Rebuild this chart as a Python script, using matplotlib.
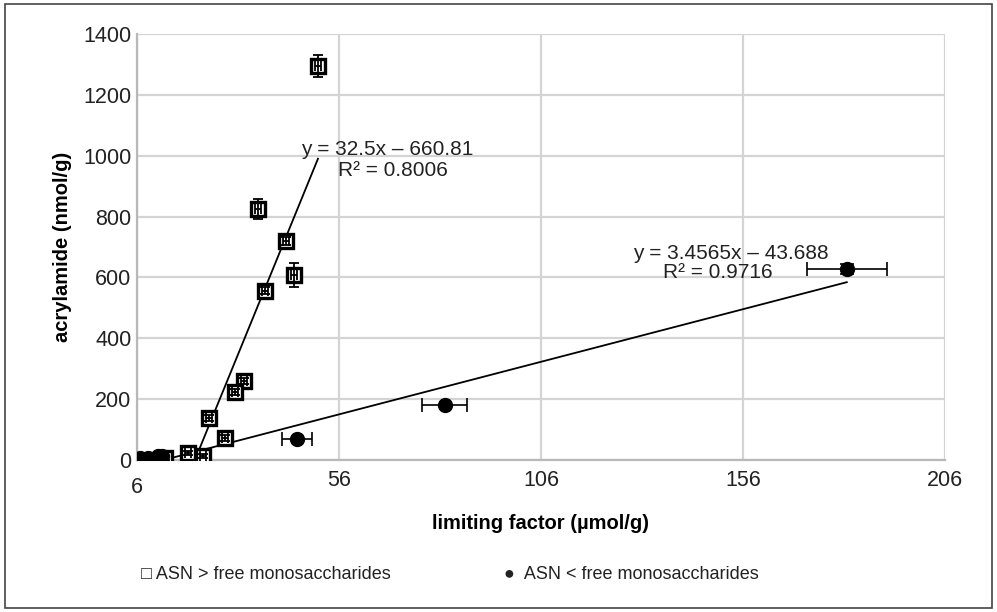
import numpy as np
import matplotlib.pyplot as plt
from matplotlib.patches import Rectangle
from matplotlib.transforms import ScaledTranslation

plt.rcParams['font.family'] = ['Liberation Sans', 'DejaVu Sans']

# ASN > free monosaccharides (squares)
sq_x = [50.8, 36.0, 42.9, 44.9, 37.7, 32.5, 30.3, 23.8, 27.8, 22.3, 18.6, 12.9]
sq_y = [1295, 825, 720, 607, 557, 260, 222, 137, 72, 13, 23, 6]
sq_xerr = [0.7, 0.7, 0.7, 0.7, 0.7, 0.7, 0.7, 0.7, 0.7, 0.7, 0.7, 0.7]
sq_yerr = [35, 33, 14, 40, 12, 10, 10, 10, 10, 8, 8, 6]

# ASN < free monosaccharides (circles)
ci_x = [181.7, 82.2, 45.6, 6.8, 8.7, 11.2, 12.2]
ci_y = [627, 181, 70, 6, 7, 14, 12]
ci_xerr = [9.9, 5.6, 3.7, 0, 0, 0, 0]
ci_yerr = [16, 0, 0, 0, 0, 0, 0]

# trendline coefficients (slope, intercept) from the chart labels
sq_fit = (32.5, -660.81)
ci_fit = (3.4565, -43.688)

x_ticks = [6, 56, 106, 156, 206]
y_ticks = [0, 200, 400, 600, 800, 1000, 1200, 1400]

fig = plt.figure(figsize=(9.97, 6.12), dpi=100)
ax = fig.add_axes([0.1374, 0.2484, 0.8104, 0.696])

# gridlines
ax.set_axisbelow(True)
ax.grid(True, color='#d4d4d4', lw=1.6)
for s in ['top', 'right']:
    ax.spines[s].set_visible(False)
for s in ['left', 'bottom']:
    ax.spines[s].set_color('#b8b8b8')
    ax.spines[s].set_linewidth(1.6)


def trend(xs, fit):
    a, b = fit
    x0 = max(min(xs), -b / a)
    x1 = max(xs)
    xx = np.array([x0, x1])
    ax.plot(xx, a * xx + b, color='black', lw=1.3, zorder=2)


trend(sq_x, sq_fit)
trend(ci_x, ci_fit)

# squares
ax.plot(sq_x, sq_y, 's', ms=10, mfc='white', mec='black', mew=2.4, zorder=3)
ax.errorbar(sq_x, sq_y, xerr=sq_xerr, yerr=sq_yerr, fmt='none', ecolor='black',
            elinewidth=1.3, capsize=3.5, capthick=1.3, zorder=4)

# circles
ax.errorbar(ci_x, ci_y, xerr=ci_xerr, yerr=ci_yerr, fmt='none', ecolor='black',
            elinewidth=1.2, capsize=5, capthick=1.2, zorder=3)
ax.plot(ci_x, ci_y, 'o', ms=10, color='black', zorder=4)

ax.set_xlim(6, 206)
ax.set_ylim(0, 1400)
ax.set_xticks(x_ticks)
ax.set_yticks(y_ticks)
ax.tick_params(length=0, labelsize=15.5, labelcolor='#222222')
ax.tick_params(axis='y', pad=4)
ax.tick_params(axis='x', pad=7)
# the first x label sits a little lower in the original
lab0 = ax.get_xticklabels()[0]
lab0.set_transform(lab0.get_transform() + ScaledTranslation(0, -5 / 72, fig.dpi_scale_trans))

ax.set_xlabel('limiting factor (µmol/g)', fontsize=14.5, fontweight='bold', labelpad=12)
ax.set_ylabel('acrylamide (nmol/g)', fontsize=14.5, fontweight='bold', labelpad=8)

# trendline labels
ax.text(46.6, 1019, 'y = 32.5x – 660.81', fontsize=15, va='center', color='#222222')
ax.text(55.8, 950, 'R² = 0.8006', fontsize=15, va='center', color='#222222')
ax.text(128.8, 680, 'y = 3.4565x – 43.688', fontsize=15, va='center', color='#222222')
ax.text(136.2, 615, 'R² = 0.9716', fontsize=15, va='center', color='#222222')

# legend as text
fig.text(0.141, 0.062, '□ ASN > free monosaccharides', fontsize=13, va='center', color='#222222')
fig.text(0.506, 0.062, '●  ASN < free monosaccharides', fontsize=13, va='center', color='#222222')

# outer frame
fig.patches.append(Rectangle((0.005, 0.007), 0.99, 0.987, transform=fig.transFigure,
                             fill=False, ec='#444444', lw=1.2))

fig.savefig('out.png', dpi=100)
